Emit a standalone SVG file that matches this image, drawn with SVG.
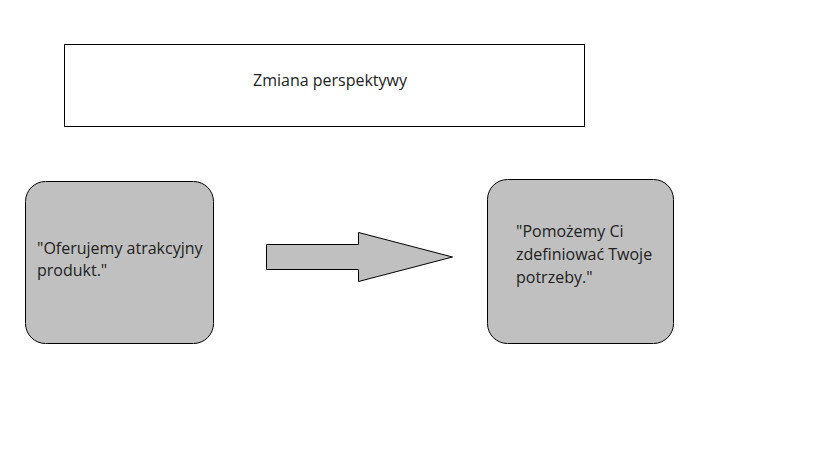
<svg xmlns="http://www.w3.org/2000/svg" width="819" height="460" viewBox="0 0 819 460">
<style>
.t{font-family:"Open Sans","Noto Sans","DejaVu Sans",sans-serif;font-size:16px;fill:#222}
.box{fill:#c0c0c0;stroke:#000;stroke-width:1}
</style>
<rect x="0" y="0" width="819" height="460" fill="#fff"/>
<g id="title">
<rect x="64.5" y="44.5" width="520" height="82" fill="#fff" stroke="#000" stroke-width="1"/>
<text class="t" x="330" y="86" text-anchor="middle">Zmiana perspektywy</text>
</g>
<g id="left">
<rect class="box" x="25.5" y="181.5" width="188" height="162" rx="20" ry="20"/>
<text class="t" x="37" y="254">"Oferujemy atrakcyjny</text>
<text class="t" x="37" y="276">produkt."</text>
</g>
<g id="right">
<rect class="box" x="487.5" y="179.5" width="186" height="164" rx="20" ry="20"/>
<text class="t" x="516" y="237">"Pomożemy Ci</text>
<text class="t" x="516" y="260">zdefiniować Twoje</text>
<text class="t" x="516" y="283">potrzeby."</text>
</g>
<g id="connectors">
<polygon class="box" points="266.5,244.5 358.5,244.5 358.5,232.5 452.5,257 358.5,281.5 358.5,269.5 266.5,269.5"/>
</g>
</svg>
